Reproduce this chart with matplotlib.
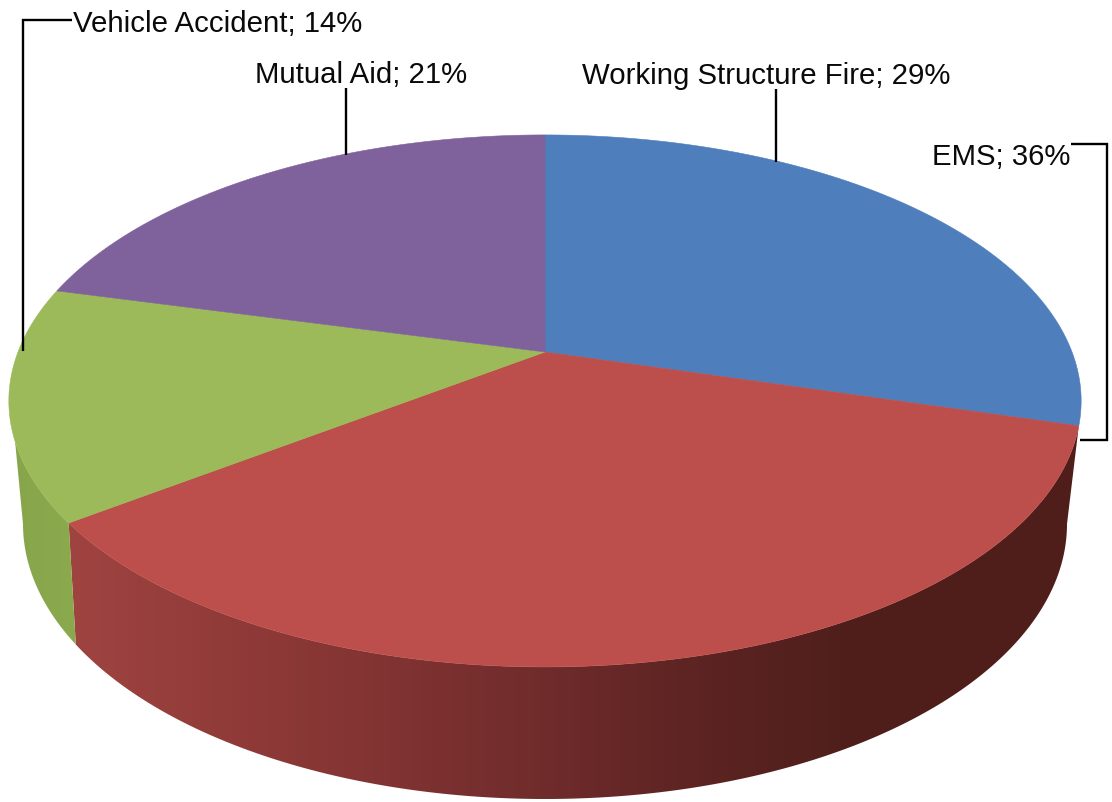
import numpy as np
import matplotlib
matplotlib.use("Agg")
import matplotlib.pyplot as plt
from matplotlib.patches import Polygon
from matplotlib.colors import LinearSegmentedColormap

plt.rcParams['font.family'] = ['Liberation Sans', 'DejaVu Sans']

categories = ["Working Structure Fire", "EMS", "Vehicle Accident", "Mutual Aid"]
values = [29.4, 35.5, 14.1, 21.0]
percent_labels = [29, 36, 14, 21]
top_colors = ["#4E7EBB", "#BC4F4B", "#9CBA59", "#7F619C"]
label_texts = [f"{c}; {v}%" for c, v in zip(categories, percent_labels)]

W, H = 1112, 803
fig = plt.figure(figsize=(W / 100, H / 100), dpi=100)
ax = fig.add_axes([0, 0, 1, 1])
ax.set_xlim(0, W)
ax.set_ylim(H, 0)
ax.axis("off")

# perspective projection of the pie's top disc
CX, CY, AX, AY, K = 545, 353, 527, 257, 0.184
# rim ellipse of the pie's underside
BX, BY, BRX, BRY = 545, 525, 522, 275


def top_pt(pct):
    th = np.radians(np.asarray(pct, float) * 3.6)
    u, v = np.sin(th), np.cos(th)
    w = 1 + K * v
    return np.column_stack([CX + AX * u / w, CY - AY * v / w])


def bot_pt(deg):
    t = np.radians(np.asarray(deg, float))
    return np.column_stack([BX + BRX * np.cos(t), BY + BRY * np.sin(t)])


edges = np.concatenate([[0], np.cumsum(values)])

# sides with horizontal shading
side_red = LinearSegmentedColormap.from_list(
    "r", [(0, "#A04441"), (0.22, "#8B3836"), (0.46, "#712C2C"),
          (0.62, "#5C2422"), (0.76, "#501F1C"), (1, "#4F1E1B")])
side_green = LinearSegmentedColormap.from_list("g", ["#87A64B", "#8BAA4E"])
grad = np.linspace(0, 1, 512)[None, :]

red_top = top_pt(np.linspace(edges[1], edges[2], 200))
red_bot = bot_pt(np.linspace(0, 154, 200))
red_poly = Polygon(np.vstack([red_top, red_bot[::-1]]), closed=True, fc="none", ec="none", transform=ax.transData)
ax.add_patch(red_poly)
im = ax.imshow(grad, cmap=side_red, extent=[60, 1090, H, 0], aspect="auto", zorder=1)
im.set_clip_path(red_poly)

green_top = top_pt(np.linspace(edges[2], 69.7, 60))
green_bot = bot_pt(np.linspace(154, 180, 40))
green_poly = Polygon(np.vstack([green_top, green_bot[::-1]]), closed=True, fc="none", ec="none", transform=ax.transData)
ax.add_patch(green_poly)
im2 = ax.imshow(grad, cmap=side_green, extent=[10, 80, H, 0], aspect="auto", zorder=1)
im2.set_clip_path(green_poly)
ax.set_xlim(0, W)
ax.set_ylim(H, 0)

# top wedges
centre = np.array([[CX, CY]])
for i, col in enumerate(top_colors):
    arc = top_pt(np.linspace(edges[i], edges[i + 1], 200))
    ax.add_patch(Polygon(np.vstack([centre, arc]), closed=True, fc=col, ec=col, lw=0.4, zorder=2))

# labels and leader lines
TXT = dict(fontsize=21.2, color="#0A0A0A", zorder=4, va="baseline")
ax.text(582, 84, label_texts[0], ha="left", **TXT)
ax.text(1070, 165, label_texts[1], ha="right", **TXT)
ax.text(73, 32, label_texts[2], ha="left", **TXT)
ax.text(255, 83, label_texts[3], ha="left", **TXT)

LN = dict(color="black", lw=1.7, zorder=3, solid_capstyle="butt", solid_joinstyle="miter")
ax.plot([776, 776], [90, 163], **LN)
ax.plot([346, 346], [89, 156], **LN)
ax.plot([1071, 1107, 1107, 1080], [145, 145, 441, 441], **LN)
ax.plot([72, 23, 23], [21, 21, 352], **LN)

fig.savefig("out.png", dpi=100)
